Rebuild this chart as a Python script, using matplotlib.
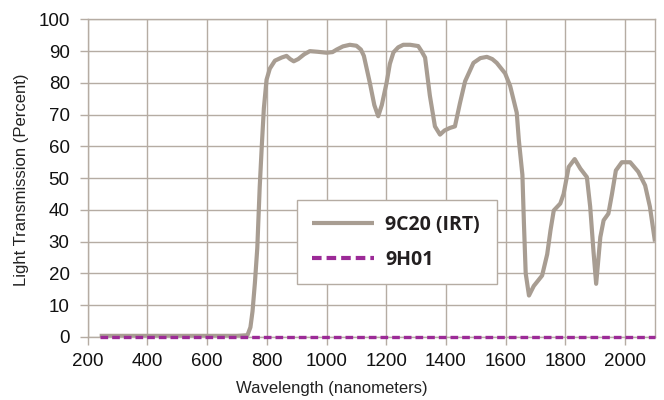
import matplotlib
matplotlib.use("Agg")
import matplotlib.pyplot as plt

# ---- data ----
c20_wl = [240, 300, 400, 500, 600, 700, 735, 745, 752, 760, 768, 776, 783, 790,
          799, 810, 827, 850, 866, 878, 890, 905, 925, 944, 970, 1000, 1020, 1034,
          1055, 1078, 1100, 1115, 1125, 1145, 1160, 1173, 1185, 1201, 1212, 1224,
          1240, 1257, 1280, 1307, 1318, 1330, 1346, 1363, 1380, 1395, 1413, 1430,
          1447, 1464, 1492, 1515, 1537, 1555, 1570, 1598, 1615, 1637, 1644, 1656,
          1661, 1667, 1678, 1694, 1722, 1739, 1750, 1761, 1783, 1794, 1811, 1831,
          1850, 1872, 1883, 1894, 1903, 1917, 1928, 1944, 1956, 1969, 1989, 2017,
          2044, 2067, 2083, 2100]
c20_val = [0.3, 0.3, 0.3, 0.3, 0.3, 0.3, 0.5, 3, 8, 17, 28, 47, 60, 72,
           81, 84.5, 87, 88, 88.5, 87.5, 86.8, 87.5, 89, 90, 89.8, 89.5, 89.7, 90.5,
           91.5, 92, 91.7, 90.5, 88.5, 80, 73, 69.5, 73, 80, 86, 89.6,
           91.2, 92, 92, 91.6, 90, 88, 76, 66.3, 63.7, 65, 65.8, 66.3,
           73.7, 80.5, 86.3, 87.8, 88.2, 87.5, 86.3, 83, 79, 70.6, 62, 51,
           36, 20, 13, 16, 19.3, 26, 33.5, 39.8, 42, 45, 53.5, 56,
           53, 50.3, 41, 27, 16.7, 31.4, 36.7, 38.8, 45, 52.4, 55, 55,
           52, 47.7, 41, 30]
h01_wl = [240, 2100]
h01_val = [0, 0]

xticks = list(range(200, 2001, 200))
yticks = list(range(0, 101, 10))

series_labels = ["9C20 (IRT)", "9H01"]

GRID = "#b5aca3"
GRAY = "#a89d92"
PURPLE = "#9c2a97"

fig = plt.figure(figsize=(6.64, 4.0), dpi=100)
ax = fig.add_axes([0.1321, 0.158, 0.8543, 0.7935])

ax.plot(c20_wl, c20_val, color=GRAY, lw=3.0, solid_capstyle="butt",
        label=series_labels[0], zorder=3)
ax.plot(h01_wl, h01_val, color=PURPLE, lw=2.4, ls=(0, (2.3, 1.2)),
        label=series_labels[1], zorder=4, clip_on=False)

ax.set_xlim(200, 2100)
ax.set_ylim(0, 100)
ax.set_xticks(xticks)
ax.set_yticks(yticks)

tick_font = dict(family=["Liberation Sans", "DejaVu Sans"], size=13.5)
ax.set_xticklabels([str(t) for t in xticks], fontdict=tick_font, color="#111111")
ax.set_yticklabels([str(t) for t in yticks], fontdict=tick_font, color="#111111")
ax.tick_params(axis="both", direction="out", length=5.5, width=1.0, color=GRID)
ax.tick_params(axis="x", pad=6.5)
ax.tick_params(axis="y", pad=7.5)

ax.grid(True, color=GRID, lw=1.0, zorder=0)
ax.set_axisbelow(True)
for s in ax.spines.values():
    s.set_color(GRID)
    s.set_linewidth(1.0)

label_font = dict(family=["Liberation Sans", "DejaVu Sans"], size=12, color="#222222")
fig.text(332 / 664, 1 - 388 / 400, "Wavelength (nanometers)", ha="center", va="center",
         **label_font)
fig.text(22 / 664, 1 - 180 / 400, "Light Transmission (Percent)", ha="center", va="center",
         rotation=90, **label_font)

leg = ax.legend(loc="lower left", bbox_to_anchor=(0.369, 0.166, 0.3525, 0.2615),
                mode="expand", borderaxespad=0.0,
                prop=dict(family=["Open Sans", "DejaVu Sans"], weight="bold", size=14),
                handlelength=3.2, handletextpad=0.57, borderpad=0.75, labelspacing=0.75,
                frameon=True, fancybox=False, framealpha=1.0, edgecolor=GRID)
leg.get_frame().set_linewidth(1.0)
for t in leg.get_texts():
    t.set_color("#231f20")
for h in leg.get_lines():
    h.set_linewidth(3.0)

fig.savefig("out.png", dpi=100)
